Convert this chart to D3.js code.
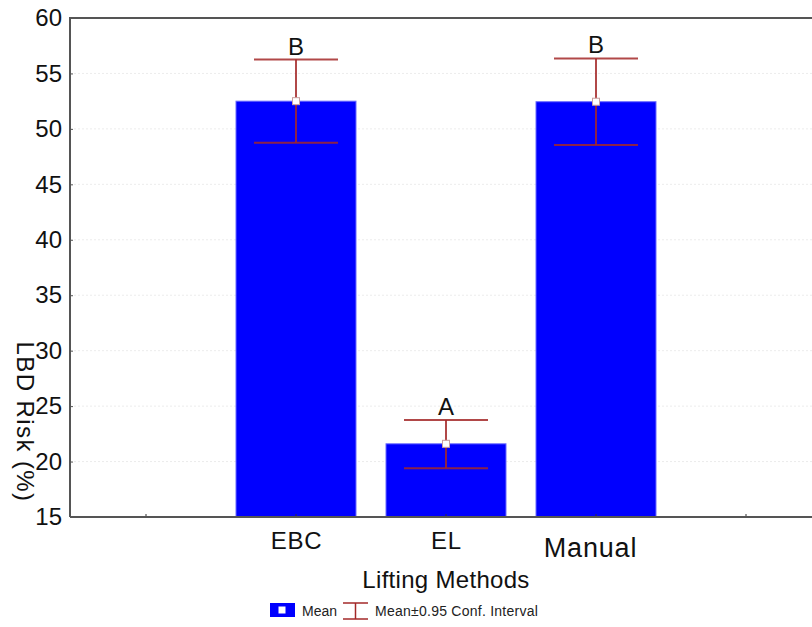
<!DOCTYPE html>
<html><head><meta charset="utf-8">
<script src="https://cdn.jsdelivr.net/npm/d3@7"></script>
<style>body{margin:0;background:#fff}svg{display:block;font-family:"Liberation Sans",Arial,sans-serif}</style>
</head><body><svg id="c" width="812" height="627"></svg>
<script>
const slots = ["", "EBC", "EL", "Manual", " "];
const categories = ["EBC", "EL", "Manual"];
const means = [52.5, 21.6, 52.45];
const ciLow = [48.75, 19.4, 48.55];
const ciHigh = [56.25, 23.75, 56.35];
const groupLetters = ["B", "A", "B"];
const yTicks = [15, 20, 25, 30, 35, 40, 45, 50, 55, 60];

const svg = d3.select("#c");
const L = 70, R = 820, T = 18, B = 517;
const xc = d3.scalePoint().domain(slots).range([L + 1, R + 1]).padding(0.5);
const y = d3.scaleLinear().domain([15, 60]).range([B, T]);
const FONT = "Liberation Sans, Arial, sans-serif";

// grid
svg.append("g").selectAll("line").data(yTicks.slice(1, -1)).join("line")
  .attr("x1", L).attr("x2", R).attr("y1", d => y(d)).attr("y2", d => y(d))
  .attr("stroke", "#ececec").attr("stroke-dasharray", "2,2");

// bars
const bw = 120;
svg.append("g").selectAll("rect").data(categories).join("rect")
  .attr("x", d => xc(d) - bw / 2).attr("width", bw)
  .attr("y", (d, i) => y(means[i])).attr("height", (d, i) => y(15) - y(means[i]))
  .attr("fill", "#0000ff").attr("stroke", "#6a6aff").attr("stroke-width", 1);

// error bars
const cap = 42;
const eb = svg.append("g").attr("stroke", "#a32828").attr("stroke-opacity", 0.85).attr("stroke-width", 2);
categories.forEach((c, i) => {
  const cx = xc(c);
  eb.append("line").attr("x1", cx).attr("x2", cx).attr("y1", y(ciLow[i])).attr("y2", y(ciHigh[i]));
  eb.append("line").attr("x1", cx - cap).attr("x2", cx + cap).attr("y1", y(ciLow[i])).attr("y2", y(ciLow[i]));
  eb.append("line").attr("x1", cx - cap).attr("x2", cx + cap).attr("y1", y(ciHigh[i])).attr("y2", y(ciHigh[i]));
});
// mean markers
svg.append("g").selectAll("rect").data(categories).join("rect")
  .attr("x", d => xc(d) - 3.5).attr("y", (d, i) => y(means[i]) - 3.5)
  .attr("width", 7).attr("height", 7).attr("fill", "#fff").attr("stroke", "#c9a0a0").attr("stroke-width", 1);

// letters
svg.append("g").selectAll("text").data(categories).join("text")
  .attr("x", d => xc(d)).attr("y", (d, i) => y(ciHigh[i]) - 5)
  .attr("text-anchor", "middle").attr("font-size", 24).attr("fill", "#111")
  .text((d, i) => groupLetters[i]);

// y axis
const ya = svg.append("g").attr("transform", `translate(${L},0)`)
  .call(d3.axisLeft(y).tickValues(yTicks).tickSize(3).tickPadding(5));
ya.select(".domain").remove();
ya.selectAll(".tick line").attr("stroke", "#555").attr("x2", 3).attr("x1", 0);
ya.selectAll(".tick text").attr("font-size", 24).attr("fill", "#111").attr("font-family", FONT);

// x axis
const xa = svg.append("g").attr("transform", `translate(0,${B})`)
  .call(d3.axisBottom(xc).tickSize(0).tickPadding(15));
xa.select(".domain").remove();
xa.selectAll(".tick text").attr("fill", "#111").attr("font-family", FONT)
  .attr("dy", d => d === "Manual" ? "25px" : "17px")
  .attr("dx", d => d === "Manual" ? -6 : 0)
  .attr("letter-spacing", 0.8)
  .attr("font-size", d => d === "Manual" ? 27 : 24);
svg.append("g").selectAll("line").data(slots).join("line")
  .attr("x1", d => xc(d)).attr("x2", d => xc(d)).attr("y1", B).attr("y2", B - 3)
  .attr("stroke", "#333");

// frame
svg.append("path").attr("d", `M${L},${B}V${T}H${R}`).attr("fill", "none").attr("stroke", "#555").attr("stroke-width", 2);
svg.append("line").attr("x1", L).attr("x2", R).attr("y1", B).attr("y2", B).attr("stroke", "#555").attr("stroke-width", 2);

// titles
svg.append("text").attr("x", xc("EL")).attr("y", 588).attr("text-anchor", "middle")
  .attr("font-size", 24).attr("letter-spacing", 0.3).attr("fill", "#111").text("Lifting Methods");
svg.append("text").attr("transform", "translate(17,422) rotate(90)").attr("text-anchor", "middle")
  .attr("font-size", 24).attr("letter-spacing", 1.4).attr("fill", "#111").text("LBD Risk (%)");

// legend
const lg = svg.append("g");
lg.append("rect").attr("x", 270).attr("y", 603).attr("width", 25).attr("height", 14).attr("fill", "#0000ff");
lg.append("rect").attr("x", 278.5).attr("y", 606.5).attr("width", 7).attr("height", 7).attr("fill", "#fff");
lg.append("text").attr("x", 302).attr("y", 616).attr("font-size", 14).attr("fill", "#222").text("Mean");
const li = lg.append("g").attr("stroke", "#a32828").attr("stroke-width", 1.5);
li.append("line").attr("x1", 343).attr("x2", 368).attr("y1", 603).attr("y2", 603);
li.append("line").attr("x1", 343).attr("x2", 368).attr("y1", 619).attr("y2", 619);
li.append("line").attr("x1", 355.5).attr("x2", 355.5).attr("y1", 603).attr("y2", 619);
lg.append("text").attr("x", 375).attr("y", 616).attr("font-size", 14).attr("fill", "#222")
  .attr("letter-spacing", 0.25).text("Mean±0.95 Conf. Interval");
</script></body></html>
